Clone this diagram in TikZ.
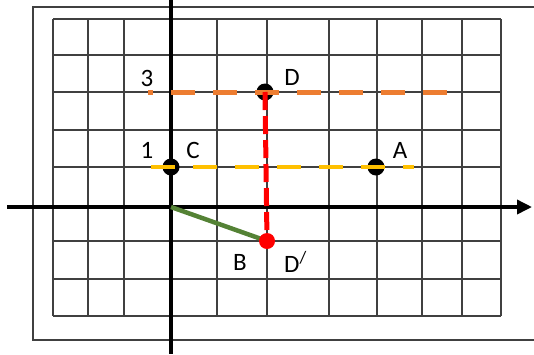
\documentclass[tikz,border=0pt]{standalone}
\usepackage{fontspec}
\setmainfont{Carlito}
\usepackage{xcolor}
\usepackage{tikz}
\usetikzlibrary{arrows.meta,positioning}
\definecolor{laranja}{HTML}{ED7D31}
\definecolor{amarelo}{HTML}{FFC000}
\definecolor{verde}{HTML}{548235}
\tikzset{
    grade/.style={draw=black!75, line width=1.3pt},
    eixo/.style={line width=3.5pt, black},
    ponto/.style={circle, fill=black, inner sep=0pt, minimum size=17pt},
    pontoVermelho/.style={ponto, fill=red, minimum size=16pt},
    rotulo/.style={inner sep=0pt, font=\fontsize{25}{30}\selectfont},
    tracoLaranja/.style={draw=laranja, line width=5pt, dash pattern=on 24pt off 18pt, dash phase=19pt},
    tracoAmarelo/.style={draw=amarelo, line width=4.5pt, dash pattern=on 24pt off 18pt},
    tracoVermelho/.style={draw=red, line width=5pt, dash pattern=on 18pt off 6pt},
    segmento/.style={draw=verde, line width=4.5pt}
}

\begin{document}
\begin{tikzpicture}[x=1pt, y=-1pt]
        \useasboundingbox (0,0) rectangle (534,354);
        % moldura e malha
        \draw[grade] (534,7) -- (33,7) -- (33,340) -- (534,340);
        \foreach \x in {53,88,124,171,217,267,329,377,422,462,501}
            \draw[grade] (\x,19) -- (\x,316);
        \foreach \y in {19,55,92,130,167,207,241,279,316}
            \draw[grade] (53,\y) -- (501,\y);

        % eixos
        \coordinate (origem) at (171,207);
        \coordinate (xini) at (7,207);
        \coordinate (xfim) at (532,207);
        \coordinate (ytopo) at (171,0);
        \coordinate (ybase) at (171,354);
        \draw[eixo, -{Triangle[length=15pt, width=14pt]}] (xini) -- (xfim);
        \draw[eixo] (ytopo) -- (ybase);

        % pontos
        \node[ponto] (C) at (171,167) {};
        \node[ponto] (A) at (376,167) {};
        \node[ponto] (D) at (265,92) {};
        \coordinate (ini3) at (148,92);
        \coordinate (fim3) at (447,92);
        \coordinate (ini1) at (151,167);
        \coordinate (fim1) at (414,167);

        \draw[tracoLaranja] (ini3) -- (fim3);
        \draw[tracoAmarelo] (ini1) -- (fim1);
        \node[pontoVermelho, fill=none] (Dlinha) at (267,241) {};
        \draw[tracoVermelho] (D.center) -- (Dlinha.center);
        \draw[segmento] (origem) -- (Dlinha.center);
        \node[pontoVermelho] at (Dlinha.center) {};

        % rotulos
        \node[rotulo] (r3) at (147,78) {3};
        \node[rotulo] (rD) at (292,77) {D};
        \node[rotulo] (r1) at (147,150) {1};
        \node[rotulo] (rC) at (193,150) {C};
        \node[rotulo] (rA) at (400,150) {A};
        \node[rotulo] (rB) at (240,262) {B};
        \node[rotulo, anchor=west] (rDl) at (284,262) {D\textsuperscript{/}};
    \end{tikzpicture}
\end{document}
